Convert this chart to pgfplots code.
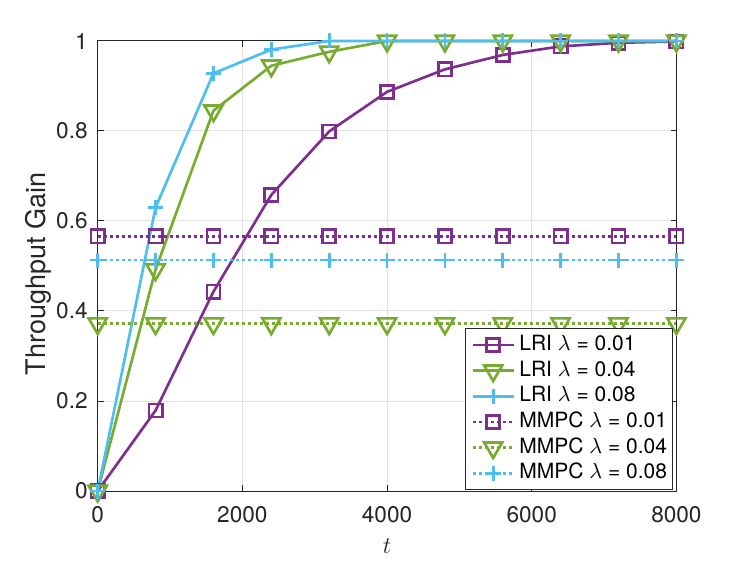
\documentclass[border=0pt]{standalone}
\usepackage{fontspec}
\setmainfont{TeX Gyre Heros}
\usepackage{pgfplots}
\pgfplotsset{compat=1.18}
\definecolor{c1}{RGB}{126,47,142}
\definecolor{c2}{RGB}{119,172,48}
\definecolor{c3}{RGB}{77,190,238}
\definecolor{axc}{RGB}{38,38,38}
\definecolor{gridc}{RGB}{226,226,226}
\begin{document}
\begin{tikzpicture}
\path[use as bounding box] (-48.85pt,-35pt) rectangle (324.65pt,245.5pt);
\begin{axis}[
  at={(0pt,0pt)}, anchor=south west,
  scale only axis, width=289.35pt, height=225pt,
  xmin=0, xmax=8000, ymin=0, ymax=1,
  xtick={0,2000,4000,6000,8000},
  ytick={0,0.2,0.4,0.6,0.8,1},
  scaled ticks=false,
  /pgf/number format/1000 sep={},
  /pgf/number format/assume math mode=true,
  tick label style={font=\fontsize{11.3}{13}\selectfont, color=axc},
  xticklabel style={yshift=-4pt},
  yticklabel style={xshift=-1.5pt},
  axis line style={axc, line width=0.5pt},
  tick style={axc, line width=0.5pt},
  tick align=inside, major tick length=2.9pt,
  grid=major, major grid style={gridc, line width=0.5pt},
  ylabel={Throughput Gain},
  ylabel style={font=\fontsize{13.5}{16}\selectfont, color=axc, at={(axis description cs:-0.0899,0.482)}, anchor=base},
  xlabel={$t$},
  xlabel style={font=\fontsize{12.5}{14}\selectfont, color=axc, at={(axis description cs:0.5,-0.1378)}, anchor=base},
  clip=false,
  legend style={at={(0.9946,0.0022)}, anchor=south east, font=\fontsize{10.5}{12}\selectfont,
    draw=axc, line width=0.5pt, fill=white, inner sep=2.9pt, row sep=2.43pt, column sep=2.2pt,
    nodes={inner sep=0pt, text height=8pt, text depth=2.4pt, anchor=west}},
  legend cell align=left,
  legend image code/.code={\draw[mark repeat=2,mark phase=2] plot coordinates {(0cm,0cm) (0.36cm,0cm) (0.72cm,0cm)};},
]
\addplot[c1, line width=1.33pt, mark=square, mark size=3.3pt, mark options={solid}] coordinates {
(0,0) (800,0.179) (1600,0.443) (2400,0.658) (3200,0.799) (4000,0.887) (4800,0.937) (5600,0.969) (6400,0.988) (7200,0.996) (8000,0.999)};
\addlegendentry{LRI $\lambda$ = 0.01}
\addplot[c2, line width=1.33pt, mark=triangle, mark size=5.2pt, mark options={solid, rotate=180}] coordinates {
(0,0) (800,0.492) (1600,0.845) (2400,0.945) (3200,0.976) (4000,1) (4800,1) (5600,1) (6400,1) (7200,1) (8000,1)};
\addlegendentry{LRI $\lambda$ = 0.04}
\addplot[c3, line width=1.33pt, mark=+, mark size=3.75pt, mark options={solid}] coordinates {
(0,0) (800,0.63) (1600,0.928) (2400,0.981) (3200,1) (4000,1) (4800,1) (5600,1) (6400,1) (7200,1) (8000,1)};
\addlegendentry{LRI $\lambda$ = 0.08}
\addplot[c1, line width=1.33pt, dash pattern=on 1.5pt off 1.5pt, mark=square, mark size=3.3pt, mark options={solid}] coordinates {
(0,0.566) (800,0.566) (1600,0.566) (2400,0.566) (3200,0.566) (4000,0.566) (4800,0.566) (5600,0.566) (6400,0.566) (7200,0.566) (8000,0.566)};
\addlegendentry{MMPC $\lambda$ = 0.01}
\addplot[c2, line width=1.33pt, dash pattern=on 1.5pt off 1.5pt, mark=triangle, mark size=5.2pt, mark options={solid, rotate=180}] coordinates {
(0,0.372) (800,0.372) (1600,0.372) (2400,0.372) (3200,0.372) (4000,0.372) (4800,0.372) (5600,0.372) (6400,0.372) (7200,0.372) (8000,0.372)};
\addlegendentry{MMPC $\lambda$ = 0.04}
\addplot[c3, line width=1.33pt, dash pattern=on 1.5pt off 1.5pt, mark=+, mark size=3.75pt, mark options={solid}] coordinates {
(0,0.513) (800,0.513) (1600,0.513) (2400,0.513) (3200,0.513) (4000,0.513) (4800,0.513) (5600,0.513) (6400,0.513) (7200,0.513) (8000,0.513)};
\addlegendentry{MMPC $\lambda$ = 0.08}
\end{axis}
\end{tikzpicture}
\end{document}
